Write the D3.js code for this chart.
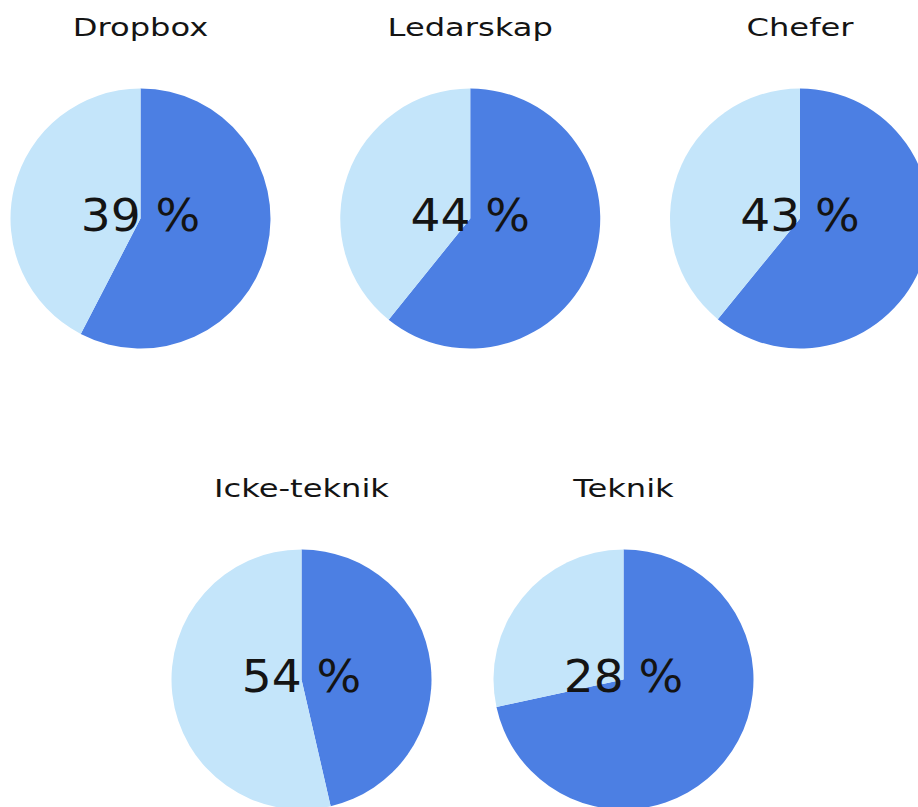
<!DOCTYPE html>
<html>
<head>
<meta charset="utf-8">
<script src="https://cdn.jsdelivr.net/npm/d3@7"></script>
<style>
  html, body { margin: 0; padding: 0; background: #ffffff; }
  svg { display: block; }
</style>
</head>
<body>
<script>
// ---- data ----
const categories = ["Dropbox", "Ledarskap", "Chefer", "Icke-teknik", "Teknik"];
const labelValues = [39, 44, 43, 54, 28];          // printed percentages
const lightShares = [42.4, 39.2, 39.1, 53.6, 28.4]; // light slice share as drawn (%)
const rowOf = [0, 0, 0, 1, 1];

// ---- layout ----
const W = 918, H = 807;
const R = 130;
const rowCy = [218.5, 679.5];
const titleOffset = -182.5; // baseline relative to pie centre
const colors = { dark: "#4c7fe3", light: "#c4e5fa", text: "#141414" };

const svg = d3.select("body").append("svg")
  .attr("width", W).attr("height", H);

const topRow = categories.filter((c, i) => rowOf[i] === 0);
const botRow = categories.filter((c, i) => rowOf[i] === 1);
const xTop = d3.scalePoint().domain(topRow).range([140.5, 800]);
const xBot = d3.scalePoint().domain(botRow).range([301.5, 623.5]);

const pie = d3.pie().sort(null).value(d => d.v);
const arc = d3.arc().innerRadius(0).outerRadius(R);

categories.forEach((cat, i) => {
  const row = rowOf[i];
  const cx = row === 0 ? xTop(cat) : xBot(cat);
  const cy = rowCy[row];
  const g = svg.append("g").attr("transform", `translate(${cx},${cy})`);

  const slices = [
    { k: "dark", v: 100 - lightShares[i] },
    { k: "light", v: lightShares[i] }
  ];
  g.selectAll("path").data(pie(slices)).join("path")
    .attr("d", arc)
    .attr("fill", d => colors[d.data.k]);

  g.append("text")
    .attr("transform", `translate(0,12) scale(1.07,1)`)
    .attr("text-anchor", "middle")
    .attr("font-family", "DejaVu Sans")
    .attr("font-size", 44)
    .attr("fill", colors.text)
    .text(labelValues[i] + " %");

  svg.append("text")
    .attr("transform", `translate(${cx},${cy + titleOffset}) scale(1.34,1)`)
    .attr("text-anchor", "middle")
    .attr("font-family", "DejaVu Sans")
    .attr("font-size", 24)
    .attr("fill", colors.text)
    .text(cat);
});
</script>
</body>
</html>
